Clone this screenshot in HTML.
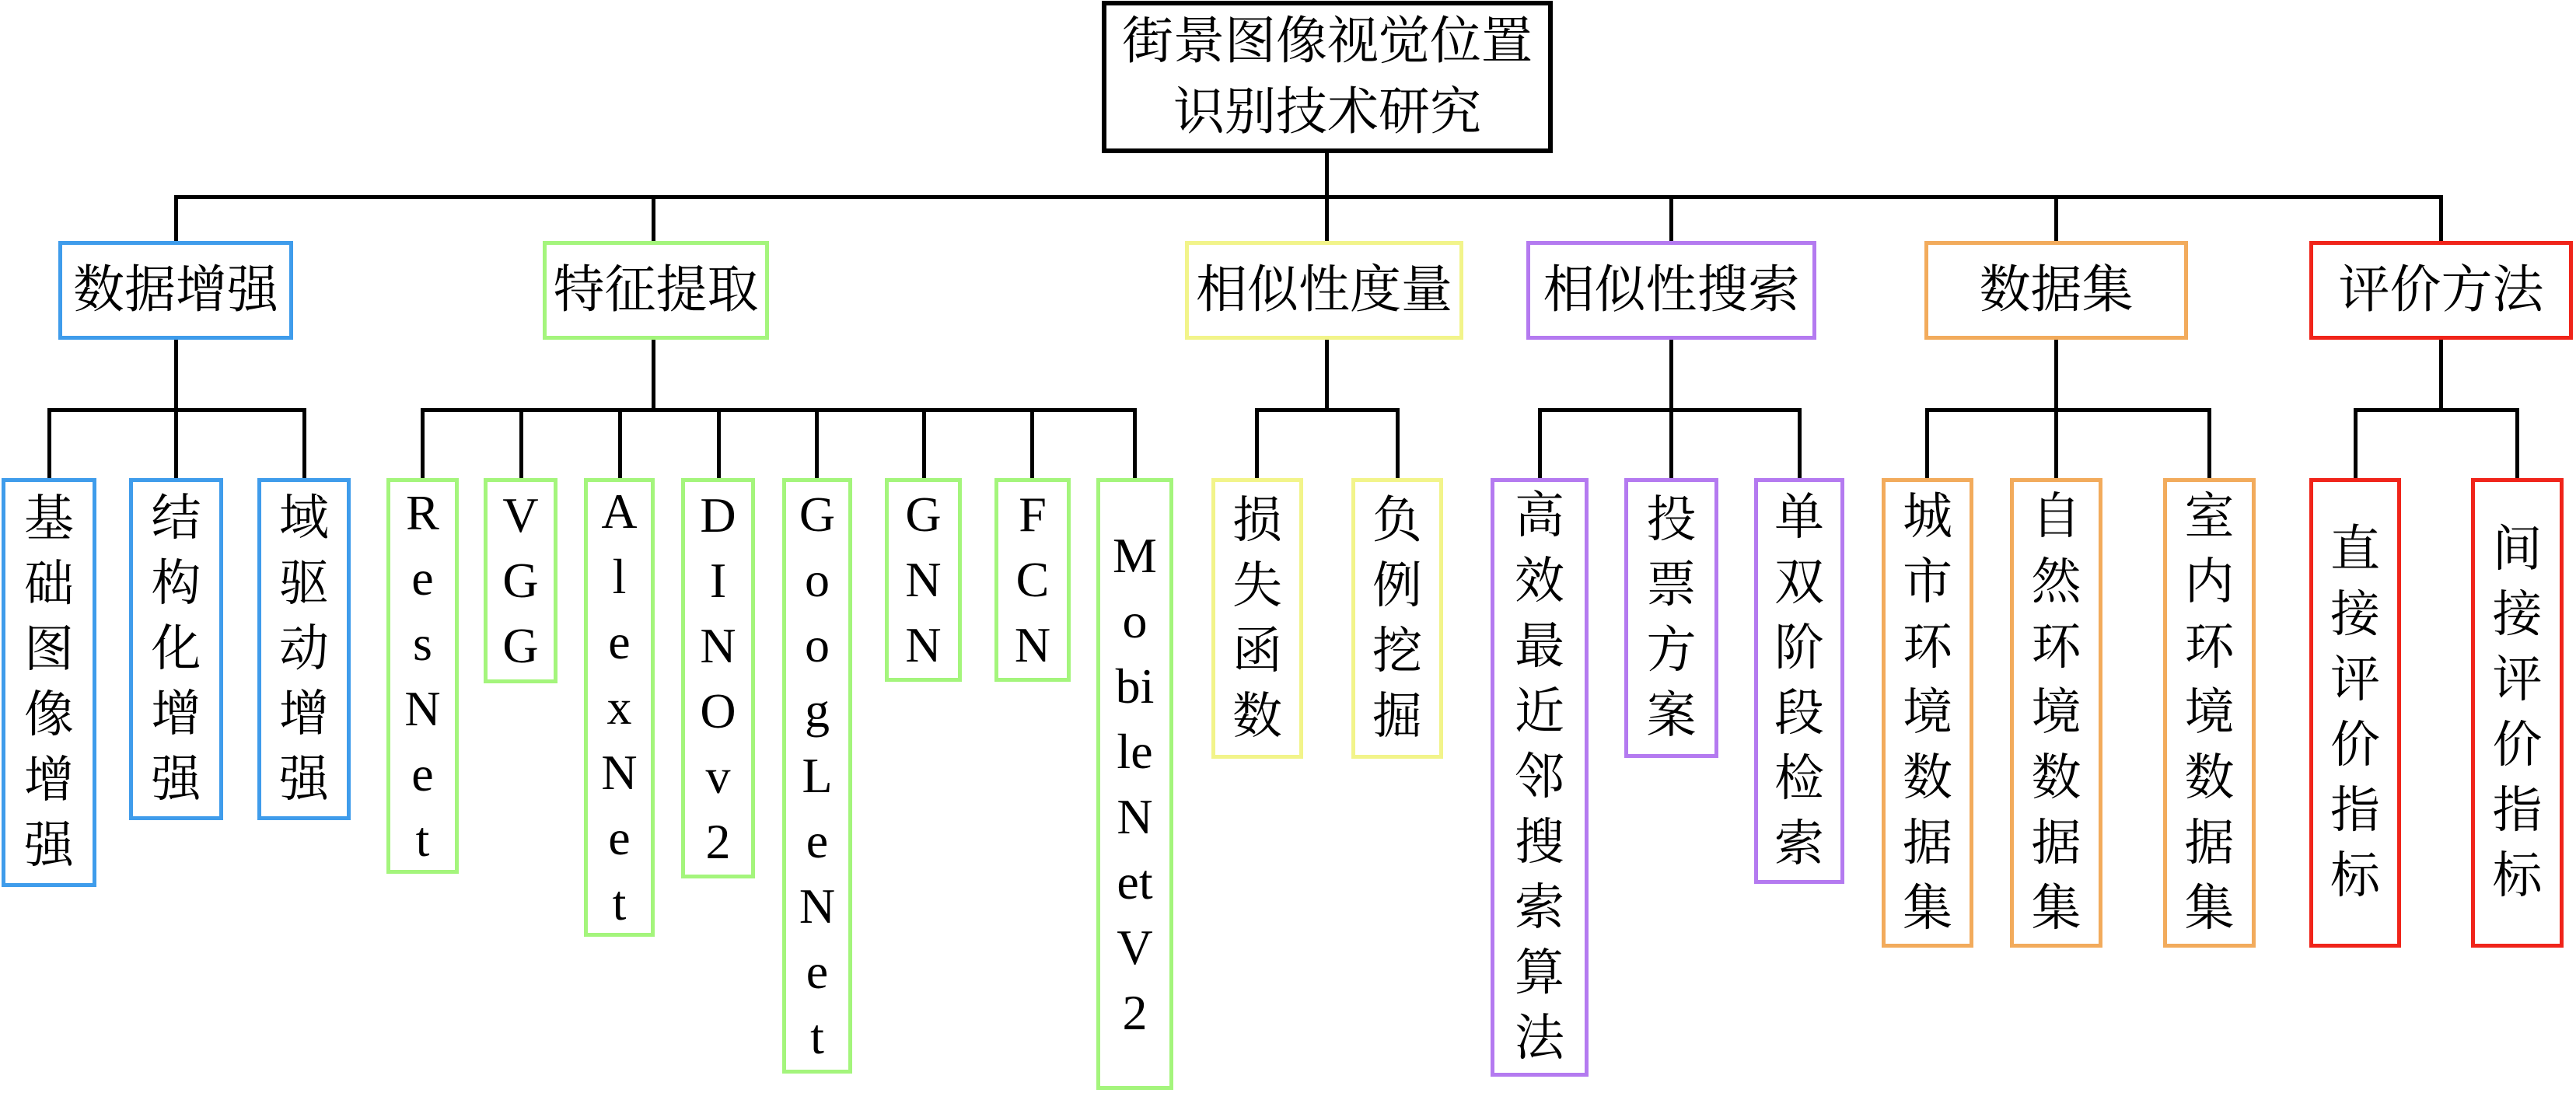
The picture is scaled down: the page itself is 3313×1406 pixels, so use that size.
<!DOCTYPE html>
<html><head><meta charset="utf-8"><style>
body{margin:0;width:3313px;height:1406px;background:#fff;position:relative;overflow:hidden;font-family:"Liberation Serif","Noto Serif CJK SC",serif;color:#000}
.b{position:absolute;box-sizing:border-box;border:5px solid;background:#fff;display:flex;align-items:center;justify-content:center;text-align:center;font-size:66px;line-height:66px;white-space:nowrap}
.l{font-size:64px;line-height:84px;white-space:normal;flex-direction:column}
.l span{display:block}
.h{position:absolute;height:5px;background:#000}
.v{position:absolute;width:5px;background:#000}
.bl{border-color:#3f9ceb}.gr{border-color:#a4f57c}.ye{border-color:#f2f48a}.pu{border-color:#b47af0}.or{border-color:#f2ab5c}.rd{border-color:#f0241a}
</style></head><body>
<!-- lines -->
<div class="v" style="left:1704px;top:195px;height:60px"></div>
<div class="h" style="left:224px;top:251px;width:2918px"></div>
<div class="v" style="left:224px;top:251px;height:60px"></div>
<div class="v" style="left:838px;top:251px;height:60px"></div>
<div class="v" style="left:1704px;top:251px;height:60px"></div>
<div class="v" style="left:2147px;top:251px;height:60px"></div>
<div class="v" style="left:2642px;top:251px;height:60px"></div>
<div class="v" style="left:3137px;top:251px;height:60px"></div>
<div class="v" style="left:224px;top:434px;height:95px"></div>
<div class="v" style="left:838px;top:434px;height:95px"></div>
<div class="v" style="left:1704px;top:434px;height:95px"></div>
<div class="v" style="left:2147px;top:434px;height:95px"></div>
<div class="v" style="left:2642px;top:434px;height:95px"></div>
<div class="v" style="left:3137px;top:434px;height:95px"></div>
<div class="h" style="left:61px;top:525px;width:333px"></div>
<div class="h" style="left:541px;top:525px;width:921px"></div>
<div class="h" style="left:1614px;top:525px;width:186px"></div>
<div class="h" style="left:1978px;top:525px;width:339px"></div>
<div class="h" style="left:2476px;top:525px;width:368px"></div>
<div class="h" style="left:3027px;top:525px;width:213px"></div>
<div class="v" style="left:61px;top:525px;height:92px"></div>
<div class="v" style="left:224px;top:525px;height:92px"></div>
<div class="v" style="left:389px;top:525px;height:92px"></div>
<div class="v" style="left:541px;top:525px;height:92px"></div>
<div class="v" style="left:668px;top:525px;height:92px"></div>
<div class="v" style="left:795px;top:525px;height:92px"></div>
<div class="v" style="left:922px;top:525px;height:92px"></div>
<div class="v" style="left:1048px;top:525px;height:92px"></div>
<div class="v" style="left:1186px;top:525px;height:92px"></div>
<div class="v" style="left:1325px;top:525px;height:92px"></div>
<div class="v" style="left:1457px;top:525px;height:92px"></div>
<div class="v" style="left:1614px;top:525px;height:92px"></div>
<div class="v" style="left:1795px;top:525px;height:92px"></div>
<div class="v" style="left:1978px;top:525px;height:92px"></div>
<div class="v" style="left:2147px;top:525px;height:92px"></div>
<div class="v" style="left:2312px;top:525px;height:92px"></div>
<div class="v" style="left:2476px;top:525px;height:92px"></div>
<div class="v" style="left:2642px;top:525px;height:92px"></div>
<div class="v" style="left:2839px;top:525px;height:92px"></div>
<div class="v" style="left:3027px;top:525px;height:92px"></div>
<div class="v" style="left:3235px;top:525px;height:92px"></div>

<!-- root -->
<div class="b" style="left:1417px;top:1px;width:580px;height:196px;border:6px solid #000;white-space:normal;line-height:91px;padding:0 14px">街景图像视觉位置识别技术研究</div>

<!-- level 1 -->
<div class="b bl" style="left:75px;top:310px;width:302px;height:127px">数据增强</div>
<div class="b gr" style="left:698px;top:310px;width:291px;height:127px">特征提取</div>
<div class="b ye" style="left:1524px;top:310px;width:358px;height:127px">相似性度量</div>
<div class="b pu" style="left:1963px;top:310px;width:373px;height:127px">相似性搜索</div>
<div class="b or" style="left:2475px;top:310px;width:339px;height:127px">数据集</div>
<div class="b rd" style="left:2970px;top:310px;width:339px;height:127px">评价方法</div>

<!-- leaves -->
<div class="b l bl" style="left:2px;top:615px;width:122px;height:526px"><span>基</span><span>础</span><span>图</span><span>像</span><span>增</span><span>强</span></div>
<div class="b l bl" style="left:166px;top:615px;width:121px;height:440px"><span>结</span><span>构</span><span>化</span><span>增</span><span>强</span></div>
<div class="b l bl" style="left:331px;top:615px;width:120px;height:440px"><span>域</span><span>驱</span><span>动</span><span>增</span><span>强</span></div>
<div class="b l gr" style="left:497px;top:615px;width:93px;height:509px"><span>R</span><span>e</span><span>s</span><span>N</span><span>e</span><span>t</span></div>
<div class="b l gr" style="left:622px;top:615px;width:95px;height:264px"><span>V</span><span>G</span><span>G</span></div>
<div class="b l gr" style="left:751px;top:615px;width:91px;height:590px"><span>A</span><span>l</span><span>e</span><span>x</span><span>N</span><span>e</span><span>t</span></div>
<div class="b l gr" style="left:876px;top:615px;width:95px;height:515px"><span>D</span><span>I</span><span>N</span><span>O</span><span>v</span><span>2</span></div>
<div class="b l gr" style="left:1006px;top:615px;width:90px;height:766px"><span>G</span><span>o</span><span>o</span><span>g</span><span>L</span><span>e</span><span>N</span><span>e</span><span>t</span></div>
<div class="b l gr" style="left:1138px;top:615px;width:99px;height:262px"><span>G</span><span>N</span><span>N</span></div>
<div class="b l gr" style="left:1279px;top:615px;width:98px;height:262px"><span>F</span><span>C</span><span>N</span></div>
<div class="b l gr" style="left:1410px;top:615px;width:99px;height:787px"><span>M</span><span>o</span><span>bi</span><span>le</span><span>N</span><span>et</span><span>V</span><span>2</span></div>
<div class="b l ye" style="left:1558px;top:615px;width:118px;height:361px"><span>损</span><span>失</span><span>函</span><span>数</span></div>
<div class="b l ye" style="left:1738px;top:615px;width:118px;height:361px"><span>负</span><span>例</span><span>挖</span><span>掘</span></div>
<div class="b l pu" style="left:1917px;top:615px;width:126px;height:770px"><span>高</span><span>效</span><span>最</span><span>近</span><span>邻</span><span>搜</span><span>索</span><span>算</span><span>法</span></div>
<div class="b l pu" style="left:2089px;top:615px;width:121px;height:360px"><span>投</span><span>票</span><span>方</span><span>案</span></div>
<div class="b l pu" style="left:2256px;top:615px;width:116px;height:522px"><span>单</span><span>双</span><span>阶</span><span>段</span><span>检</span><span>索</span></div>
<div class="b l or" style="left:2420px;top:615px;width:118px;height:604px"><span>城</span><span>市</span><span>环</span><span>境</span><span>数</span><span>据</span><span>集</span></div>
<div class="b l or" style="left:2585px;top:615px;width:119px;height:604px"><span>自</span><span>然</span><span>环</span><span>境</span><span>数</span><span>据</span><span>集</span></div>
<div class="b l or" style="left:2782px;top:615px;width:119px;height:604px"><span>室</span><span>内</span><span>环</span><span>境</span><span>数</span><span>据</span><span>集</span></div>
<div class="b l rd" style="left:2970px;top:615px;width:118px;height:604px"><span>直</span><span>接</span><span>评</span><span>价</span><span>指</span><span>标</span></div>
<div class="b l rd" style="left:3178px;top:615px;width:119px;height:604px"><span>间</span><span>接</span><span>评</span><span>价</span><span>指</span><span>标</span></div>
</body></html>
